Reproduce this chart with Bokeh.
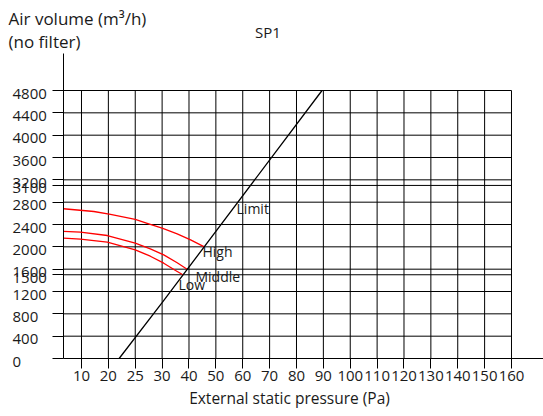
import numpy as np
from bokeh.plotting import figure
from bokeh.models import Range1d, FixedTicker, Label
from bokeh.embed import file_html
from bokeh.resources import INLINE

# ---- data ----
# x tick labels (Pa); they sit on equally spaced grid lines
PRESSURE_TICKS = [10, 20, 25, 30, 40, 50, 60, 70, 80, 90, 100, 110, 120, 130, 140, 150, 160]
AIRFLOW_TICKS = [0, 400, 800, 1200, 1500, 1600, 2000, 2400, 2800, 3100, 3200, 3600, 4000, 4400, 4800]

high_pa = [3.3, 14.6, 20.4, 25.0, 27.5, 30.0, 35.6, 40.6, 45.7]
high_m3h = [2682, 2633, 2580, 2490, 2413, 2334, 2233, 2126, 2000]
middle_pa = [3.3, 9.6, 19.6, 25.0, 27.8, 30.6, 35.6, 39.3]
middle_m3h = [2276, 2262, 2203, 2065, 1965, 1857, 1714, 1600]
low_pa = [3.3, 9.6, 19.6, 25.0, 27.8, 30.6, 35.0, 37.7]
low_m3h = [2156, 2137, 2083, 1947, 1832, 1707, 1576, 1500]
limit_pa = [22, 30, 89.5]
limit_m3h = [0, 1000, 4800]

FONT = "Open Sans"
TXT = "#1a1a1a"
tick_pos = list(range(1, len(PRESSURE_TICKS) + 1))


def to_pos(pa):
    return np.interp(pa, [0] + PRESSURE_TICKS, [0] + tick_pos)


W, H = 543, 412
# frame fills the figure; axes are placed with fixed_location
p = figure(width=W, height=H, output_backend="svg", toolbar_location=None,
           x_range=Range1d(-2.014, 18.191), y_range=Range1d(-967, 6412),
           min_border=0)
p.outline_line_color = None
p.grid.visible = False
p.background_fill_color = "white"
p.border_fill_color = "white"

AXIS_X = 0.33           # position of the vertical axis (in grid units)
AXIS_TOP = 5463         # vertical axis extends above the grid

p.xaxis.ticker = FixedTicker(ticks=tick_pos)
p.xaxis.major_label_overrides = {i: str(v) for i, v in zip(tick_pos, PRESSURE_TICKS)}
p.xaxis.fixed_location = 0
p.xaxis.bounds = (AXIS_X, 18.191)
p.yaxis.ticker = FixedTicker(ticks=AIRFLOW_TICKS)
p.yaxis.major_label_overrides = {v: "" for v in AIRFLOW_TICKS}
p.yaxis.fixed_location = AXIS_X
p.yaxis.bounds = (0, AXIS_TOP)
for ax in (p.xaxis, p.yaxis):
    ax.axis_line_color = "black"
    ax.axis_line_width = 1
    ax.major_tick_line_color = "black"
    ax.minor_tick_line_color = None
    ax.major_tick_in = 0
    ax.major_label_text_font = FONT
    ax.major_label_text_font_size = "15px"
    ax.major_label_text_color = TXT
p.xaxis.major_tick_out = 10
p.yaxis.major_tick_out = 11
p.xaxis.major_label_standoff = 2

# grid drawn from the tick lists
top = max(AIRFLOW_TICKS)
p.segment(x0=tick_pos, y0=[0] * len(tick_pos), x1=tick_pos, y1=[top] * len(tick_pos),
          line_color="black", line_width=1)
hy = AIRFLOW_TICKS[1:]
p.segment(x0=[AXIS_X] * len(hy), y0=hy, x1=[tick_pos[-1]] * len(hy), y1=hy,
          line_color="black", line_width=1)

# curves
for pa, m3 in ((high_pa, high_m3h), (middle_pa, middle_m3h), (low_pa, low_m3h)):
    p.line(to_pos(pa), m3, line_color="#ff0000", line_width=1.3)
p.line(to_pos(limit_pa), limit_m3h, line_color="black", line_width=1.3)

# curve labels
for txt, pa, m3 in (("Limit", 57.7, 2687), ("High", 45.0, 1917),
                    ("Middle", 42.4, 1469), ("Low", 36.1, 1326)):
    p.add_layout(Label(x=float(to_pos(pa)), y=m3, text=txt, text_font=FONT,
                       text_font_size="14px", text_color=TXT,
                       text_align="left", text_baseline="alphabetic"))

# y tick labels (left aligned)
for v in AIRFLOW_TICKS:
    p.add_layout(Label(x=12, x_units="screen", y=v, y_units="data", text=str(v),
                       text_font=FONT, text_font_size="15px", text_color=TXT,
                       text_align="left", text_baseline="middle", y_offset=-3))

# titles (screen units, y measured from the bottom of the figure)
p.add_layout(Label(x=8, x_units="screen", y=H - 18, y_units="screen", text="Air volume (m³/h)",
                   text_font=FONT, text_font_size="17px", text_color=TXT,
                   text_align="left", text_baseline="alphabetic"))
p.add_layout(Label(x=8, x_units="screen", y=H - 41, y_units="screen", text="(no filter)",
                   text_font=FONT, text_font_size="17px", text_color=TXT,
                   text_align="left", text_baseline="alphabetic"))
p.add_layout(Label(x=267.5, x_units="screen", y=H - 31.5, y_units="screen", text="SP1",
                   text_font=FONT, text_font_size="15px", text_color=TXT,
                   text_align="center", text_baseline="middle"))
p.add_layout(Label(x=289, x_units="screen", y=H - 397, y_units="screen",
                   text="External static pressure (Pa)",
                   text_font=FONT, text_font_size="15.5px", text_color=TXT,
                   text_align="center", text_baseline="middle"))

open("out.html", "w").write(file_html(p, INLINE))
